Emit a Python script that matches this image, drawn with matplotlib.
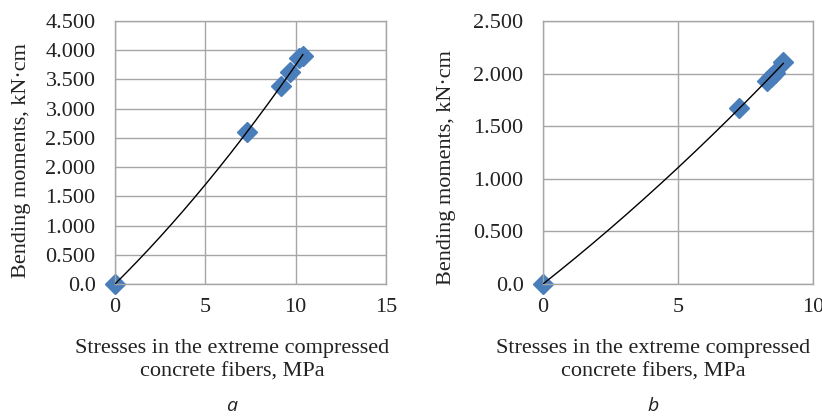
import matplotlib
matplotlib.use("Agg")
import matplotlib.pyplot as plt
import numpy as np

# data
x_a = [0.0, 7.3, 9.2, 9.7, 10.2, 10.4]
y_a = [0.0, 2.60, 3.38, 3.63, 3.86, 3.90]
x_b = [0.0, 7.27, 8.3, 8.45, 8.6, 8.9]
y_b = [0.0, 1.675, 1.93, 1.97, 2.01, 2.11]

yticks_a = [0, 0.5, 1.0, 1.5, 2.0, 2.5, 3.0, 3.5, 4.0, 4.5]
yticklabels_a = ["0.0", "0.500", "1.000", "1.500", "2.000", "2.500",
                 "3.000", "3.500", "4.000", "4.500"]
yticks_b = [0, 0.5, 1.0, 1.5, 2.0, 2.5]
yticklabels_b = ["0.0", "0.500", "1.000", "1.500", "2.000", "2.500"]
xticks_a = [0, 5, 10, 15]
xticks_b = [0, 5, 10]

ylabel = "Bending moments, kN\u00b7cm"
xlabel = "Stresses in the extreme compressed\nconcrete fibers, MPa"

serif = "Liberation Serif"
grid_color = "#a6a6a6"
marker_color = "#4a7ebb"

W, H = 822, 417
fig = plt.figure(figsize=(W / 100, H / 100), dpi=100)


def make_panel(rect, xs, ys, xticks, yticks, yticklabels, ylab_xy, label_x, letter):
    ax = fig.add_axes(rect)
    ax.set_xlim(xticks[0], xticks[-1])
    ax.set_ylim(yticks[0], yticks[-1])
    ax.set_xticks(xticks)
    ax.set_yticks(yticks)
    ax.set_xticklabels([str(t) for t in xticks], fontfamily=serif, fontsize=16)
    ax.set_yticklabels(yticklabels, fontfamily=serif, fontsize=16)
    ax.tick_params(axis="x", length=0, pad=10, colors="#222222")
    ax.tick_params(axis="y", length=0, pad=14, colors="#222222")
    ax.grid(True, color=grid_color, linewidth=1)
    ax.set_axisbelow(True)
    for s in ax.spines.values():
        s.set_color(grid_color)
        s.set_linewidth(1)

    # polynomial trendline (order 2) through the points
    coef = np.polyfit(xs, ys, 2)
    xx = np.linspace(0, max(xs), 200)
    ax.plot(xx, np.polyval(coef, xx), color="black", linewidth=1, zorder=3)
    ax.plot(xs, ys, "D", color=marker_color, markersize=10, linestyle="none",
            zorder=2, clip_on=False)

    fig.text(ylab_xy[0] / W, 1 - ylab_xy[1] / H, ylabel, rotation=90,
             ha="center", va="center", fontfamily=serif, fontsize=16,
             color="#222222")
    fig.text(label_x / W, 1 - 360 / H, xlabel, ha="center", va="center",
             fontfamily=serif, fontsize=16, linespacing=1.35, color="#222222")
    fig.text(label_x / W, 1 - 415 / H, letter, ha="center", va="bottom",
             fontfamily="Open Sans", style="italic", fontsize=14,
             color="#222222")
    return ax


make_panel([115 / W, 1 - 284 / H, 271 / W, 263 / H], x_a, y_a,
           xticks_a, yticks_a, yticklabels_a, (22, 161), 232, "a")
make_panel([543 / W, 1 - 284 / H, 270 / W, 263 / H], x_b, y_b,
           xticks_b, yticks_b, yticklabels_b, (446, 168), 653, "b")

fig.savefig("out.png", dpi=100)
